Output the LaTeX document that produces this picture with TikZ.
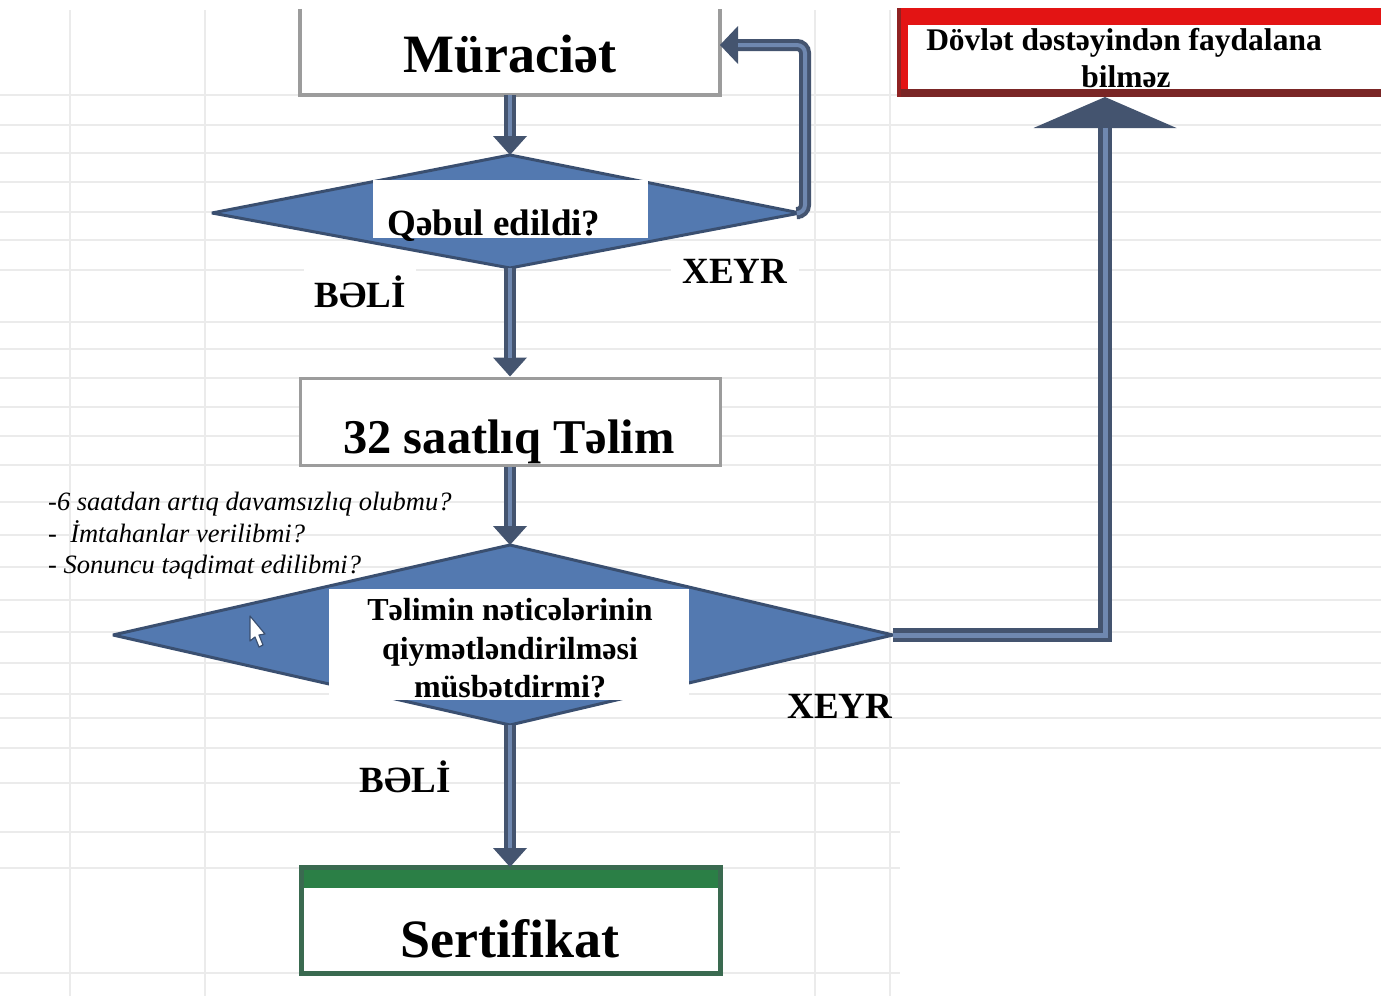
\documentclass[tikz,border=0pt]{standalone}
\usepackage{fontspec}
\setmainfont{Liberation Serif}
\usetikzlibrary{arrows.meta,calc}
\definecolor{arrdark}{HTML}{44546F}
\definecolor{arrlight}{HTML}{6F88B0}
\definecolor{dfill}{HTML}{5379B0}
\definecolor{dedge}{HTML}{3A4F70}
\definecolor{gridc}{HTML}{EBEBEB}
\definecolor{boxgray}{HTML}{9C9C9C}
\definecolor{redc}{HTML}{E31414}
\definecolor{darkred}{HTML}{7A2626}
\definecolor{greenc}{HTML}{2B7F46}
\definecolor{darkgreen}{HTML}{3A6A50}
\tikzset{
  gridline/.style={draw=gridc, line width=2.5pt},
  boxshape/.style={fill=white, inner sep=0pt, minimum width=420pt},
  dshape/.style={fill=dfill, draw=dedge, line width=3pt, line join=bevel},
  flow/.style={draw=arrdark, line width=12pt, -{Triangle[width=34pt,length=19pt,line width=0pt]}},
  flowin/.style={draw=arrlight, line width=4pt, shorten >=19pt},
  bigtxt/.style={font=\bfseries\fontsize{54}{60}\selectfont, inner sep=0pt, anchor=base},
  midtxt/.style={font=\bfseries\fontsize{37}{42}\selectfont, anchor=base},
  qtxt/.style={font=\bfseries\fontsize{32}{38.5}\selectfont, inner sep=0pt, anchor=base, align=center},
  notetxt/.style={font=\itshape\fontsize{26.5}{32}\selectfont, inner sep=0pt, anchor=base west},
  redtxt/.style={font=\bfseries\fontsize{31.5}{38}\selectfont, inner sep=0pt, anchor=base},
}
\begin{document}
\begin{tikzpicture}[x=1pt,y=-1pt]
\useasboundingbox (0,0) rectangle (1381,996);
\clip (0,0) rectangle (1381,996);
\fill[white] (0,0) rectangle (1381,996);
% spreadsheet grid
\foreach \gx in {70,205,815,890} \draw[gridline] (\gx,10) -- (\gx,996);
\foreach \gy in {95,125,153,182,212,240,270,322,349,378,407,436,465,502,535,567,600,632,663,694,718,748}
  \draw[gridline] (0,\gy) -- (1381,\gy);
\foreach \gy in {783,832,868,973}
  \draw[gridline] (0,\gy) -- (900,\gy);

% Muraciet box
\node[boxshape, minimum height=86pt] (m) at (510,52) {};
\draw[boxgray, line width=4pt] (m.north west) |- (m.south east) -- (m.north east);
\node[bigtxt] (mt) at (510,72) {Müraciət};

% Decision 1
\coordinate (d1t) at (510,155);
\coordinate (d1r) at (800,213);
\coordinate (d1b) at (510,268);
\coordinate (d1l) at (212,213);
\draw[dshape] (d1t) -- (d1r) -- (d1b) -- (d1l) -- cycle;
\fill[white] (373,180) rectangle (648,238);
\node[midtxt, inner sep=0pt] (q1) at (494,235) {Qəbul edildi?};

% Talim box
\node[boxshape, minimum height=87pt, draw=boxgray, line width=3pt] (t) at (510,421.5) {};
\node[bigtxt, font=\bfseries\fontsize{48.5}{56}\selectfont] (tt) at (509,453) {32 saatlıq Təlim};

% Decision 2
\coordinate (d2t) at (510,545);
\coordinate (d2r) at (893,635);
\coordinate (d2b) at (510,725);
\coordinate (d2l) at (113,635);
\draw[dshape] (d2t) -- (d2r) -- (d2b) -- (d2l) -- cycle;
\fill[white] (329,589) rectangle (689,700);
\node[qtxt] (q2a) at (510,620) {Təlimin nəticələrinin};
\node[qtxt] (q2b) at (510,659) {qiymətləndirilməsi};
\node[qtxt] (q2c) at (510,697) {müsbətdirmi?};

% mouse cursor
\filldraw[fill=white, draw=dedge, line width=1.2pt, line join=round]
  (250,616) -- (250,641) -- (255,637) -- (259,647) -- (263,645) -- (259,635) -- (265,634) -- cycle;

% notes
\node[notetxt] (n1) at (48,510) {-6 saatdan artıq davamsızlıq olubmu?};
\node[notetxt] (n2) at (48,542) {-\ \ İmtahanlar verilibmi?};
\node[notetxt] (n3) at (48,573) {- Sonuncu təqdimat edilibmi?};

% Sertifikat box
\node[boxshape, minimum width=418pt, minimum height=105pt] (s) at (511,920.5) {};
\fill[greenc] (s.north west) rectangle ($(s.north east)+(0,20)$);
\draw[darkgreen, line width=5pt] (s.north west) rectangle (s.south east);
\node[bigtxt] (st) at (510,957) {Sertifikat};

% Red box
\fill[redc] (897,8) rectangle (1400,97);
\fill[darkred] (897,89) rectangle (1400,97);
\fill[darkred!80!redc] (897,8) rectangle (901,97);
\fill[white] (908,25) rectangle (1400,89);
\node[redtxt] (rt1) at (1124,50) {Dövlət dəstəyindən faydalana};
\node[redtxt] (rt2) at (1126,87) {bilməz};
\coordinate (rbin) at (1105,97);

% labels
\node[midtxt, fill=white, inner xsep=12pt, inner ysep=10pt] (x1) at (735,283) {XEYR};
\node[midtxt, fill=white, inner xsep=10pt, inner ysep=8pt] (b1) at (360,307) {BƏLİ};
\node[midtxt, inner sep=0pt] (x2) at (840,718) {XEYR};
\node[midtxt, inner sep=0pt] (b2) at (405,792) {BƏLİ};

% connectors
\coordinate (loopend) at (720,45);
\coordinate (stop) at (510,867);
\draw[flow] (m.south) -- (d1t);
\draw[flowin] (m.south) -- (d1t);
\draw[flow] (d1b) -- (t.north);
\draw[flowin] (d1b) -- (t.north);
\draw[flow] (t.south) -- (d2t);
\draw[flowin] (t.south) -- (d2t);
\draw[flow] (d2b) -- (stop);
\draw[flowin] (d2b) -- (stop);
\draw[flow, rounded corners=8pt, -{Triangle[width=38pt,length=18pt,line width=0pt]}] (d1r) -- ++(5,0) |- (loopend);
\draw[flowin, rounded corners=8pt, shorten >=18pt] (d1r) -- ++(5,0) |- (loopend);
\draw[flow, line width=14pt, -{Triangle[width=143pt,length=31pt,line width=0pt]}] (d2r) -| (rbin);
\draw[flowin, line width=5pt, shorten >=31pt] (d2r) -| (rbin);
\end{tikzpicture}
\end{document}
